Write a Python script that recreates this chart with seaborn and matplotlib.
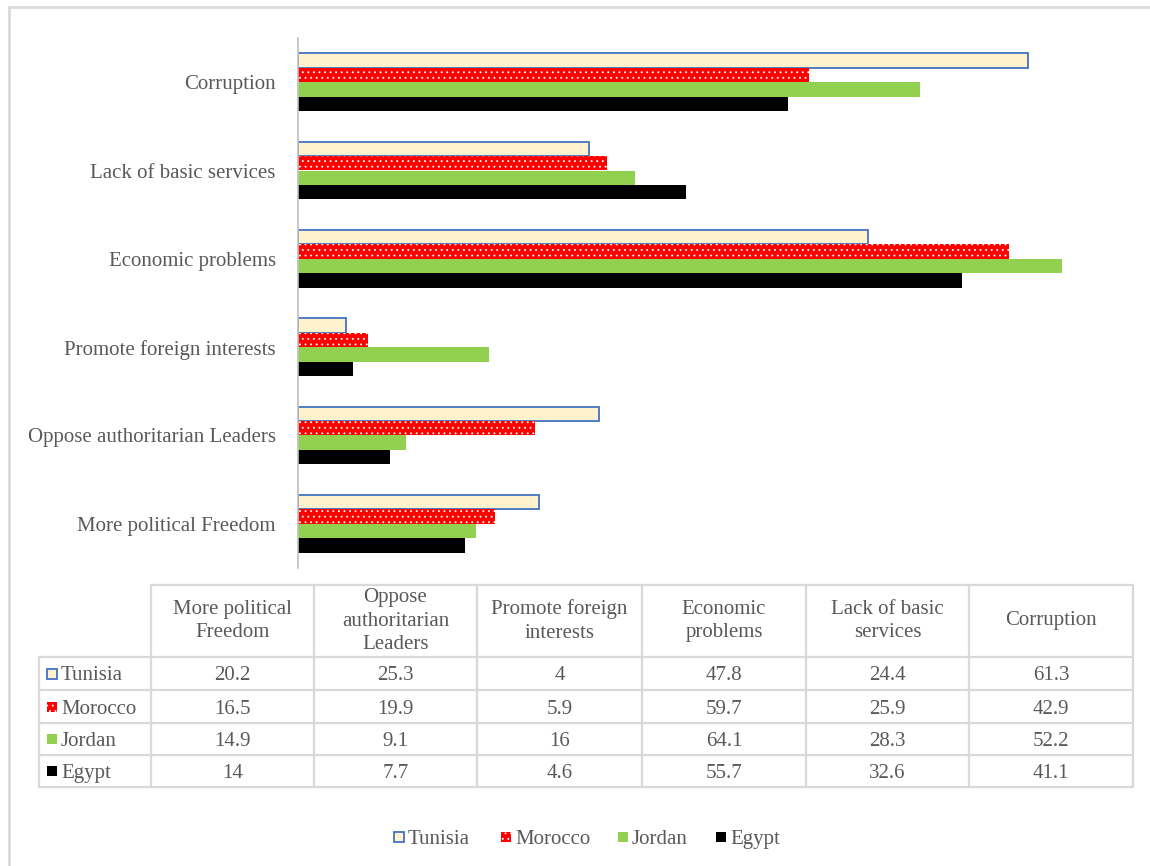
import matplotlib
matplotlib.use("Agg")
import matplotlib.pyplot as plt
import seaborn as sns
import pandas as pd
from matplotlib.patches import Rectangle
from matplotlib.lines import Line2D

# ---- data -------------------------------------------------------------
issues = ["More political Freedom", "Oppose authoritarian Leaders",
          "Promote foreign interests", "Economic problems",
          "Lack of basic services", "Corruption"]
header_labels = ["More political\nFreedom", "Oppose\nauthoritarian\nLeaders",
                 "Promote foreign\ninterests", "Economic\nproblems",
                 "Lack of basic\nservices", "Corruption"]
countries = ["Tunisia", "Morocco", "Jordan", "Egypt"]
tunisia = [20.2, 25.3, 4, 47.8, 24.4, 61.3]
morocco = [16.5, 19.9, 5.9, 59.7, 25.9, 42.9]
jordan = [14.9, 9.1, 16, 64.1, 28.3, 52.2]
egypt = [14, 7.7, 4.6, 55.7, 32.6, 41.1]
series = [tunisia, morocco, jordan, egypt]

df = pd.DataFrame({
    "issue": issues * len(countries),
    "country": [c for c in countries for _ in issues],
    "value": tunisia + morocco + jordan + egypt,
})

# ---- style ------------------------------------------------------------
face = {"Tunisia": "#FFF2CC", "Morocco": "#FF0000", "Jordan": "#92D050", "Egypt": "#000000"}
edge = {"Tunisia": "#4472C4", "Morocco": "white", "Jordan": "#92D050", "Egypt": "#000000"}
hatch = {"Tunisia": None, "Morocco": "...", "Jordan": None, "Egypt": None}
lw = {"Tunisia": 1.3, "Morocco": 0, "Jordan": 0, "Egypt": 0}
TXT = "#595959"
GRID = "#D9D9D9"
FS = 15

sns.set_theme(style="white")
plt.rcParams["font.family"] = ["Liberation Serif", "DejaVu Serif"]
plt.rcParams["hatch.linewidth"] = 0.6

W, H = 1150, 866
fig = plt.figure(figsize=(W / 100, H / 100), dpi=100)


def fx(x):
    return x / W


def fy(y):
    return 1 - y / H


# ---- bar chart --------------------------------------------------------
ax = fig.add_axes([fx(298), fy(568), (1132 - 298) / W, (568 - 38) / H])
sns.barplot(data=df, x="value", y="issue", hue="country",
            order=issues[::-1], hue_order=countries, orient="h",
            width=0.655, palette=face, saturation=1, legend=False, ax=ax)

for country, cont in zip(countries, ax.containers):
    for bar in cont:
        bar.set_facecolor(face[country])
        bar.set_edgecolor(edge[country])
        bar.set_linewidth(lw[country])
        if hatch[country]:
            bar.set_hatch(hatch[country])

ax.set_xlim(0, 70)
ax.set_ylim(5.5, -0.5)
ax.set_xlabel("")
ax.set_ylabel("")
ax.set_xticks([])
for s in ["top", "right", "bottom"]:
    ax.spines[s].set_visible(False)
ax.spines["left"].set_color("#BFBFBF")
ax.spines["left"].set_linewidth(1.2)
ax.tick_params(axis="y", length=0, pad=16, labelsize=FS, labelcolor=TXT)

# ---- outer frame ------------------------------------------------------
fig.add_artist(Line2D([fx(9), fx(W)], [fy(7), fy(7)], color=GRID, lw=2))
fig.add_artist(Line2D([fx(9), fx(9)], [fy(7), fy(H)], color=GRID, lw=2))

# ---- data table -------------------------------------------------------
col_x = [39, 151, 314, 477, 642, 806, 969, 1133]
row_y = [585, 657, 690, 723, 755, 787]


def hline(x0, x1, y):
    fig.add_artist(Line2D([fx(x0), fx(x1)], [fy(y), fy(y)], color=GRID, lw=1.6))


def vline(x, y0, y1):
    fig.add_artist(Line2D([fx(x), fx(x)], [fy(y0), fy(y1)], color=GRID, lw=1.6))


hline(col_x[1], col_x[-1], row_y[0])
for y in row_y[1:]:
    hline(col_x[0], col_x[-1], y)
vline(col_x[0], row_y[1], row_y[-1])
for x in col_x[1:]:
    vline(x, row_y[0], row_y[-1])

for j, lab in enumerate(header_labels):
    cx = (col_x[j + 1] + col_x[j + 2]) / 2
    cy = (row_y[0] + row_y[1]) / 2
    fig.text(fx(cx), fy(cy), lab, ha="center", va="center", fontsize=FS,
             color=TXT, linespacing=1.35)


def swatch(x, y, country, size=10):
    r = Rectangle((fx(x), fy(y + size / 2)), size / W, size / H,
                  transform=fig.transFigure, facecolor=face[country],
                  edgecolor=edge[country],
                  linewidth=1.3 if country == "Tunisia" else 0,
                  hatch=hatch[country])
    fig.add_artist(r)


for i, country in enumerate(countries):
    cy = (row_y[i + 1] + row_y[i + 2]) / 2
    swatch(47, cy, country)
    fig.text(fx(61), fy(cy), country, ha="left", va="center_baseline",
             fontsize=FS, color=TXT)
    for j, v in enumerate(series[i]):
        cx = (col_x[j + 1] + col_x[j + 2]) / 2
        fig.text(fx(cx), fy(cy), f"{v:g}", ha="center", va="center_baseline",
                 fontsize=FS, color=TXT)

# ---- legend -----------------------------------------------------------
leg_x = [394, 501, 618, 716]
for x, country in zip(leg_x, countries):
    swatch(x, 837, country)
    fig.text(fx(x + 14), fy(837), country, ha="left", va="center_baseline",
             fontsize=FS, color=TXT)

fig.savefig("out.png", dpi=100, facecolor="white")
